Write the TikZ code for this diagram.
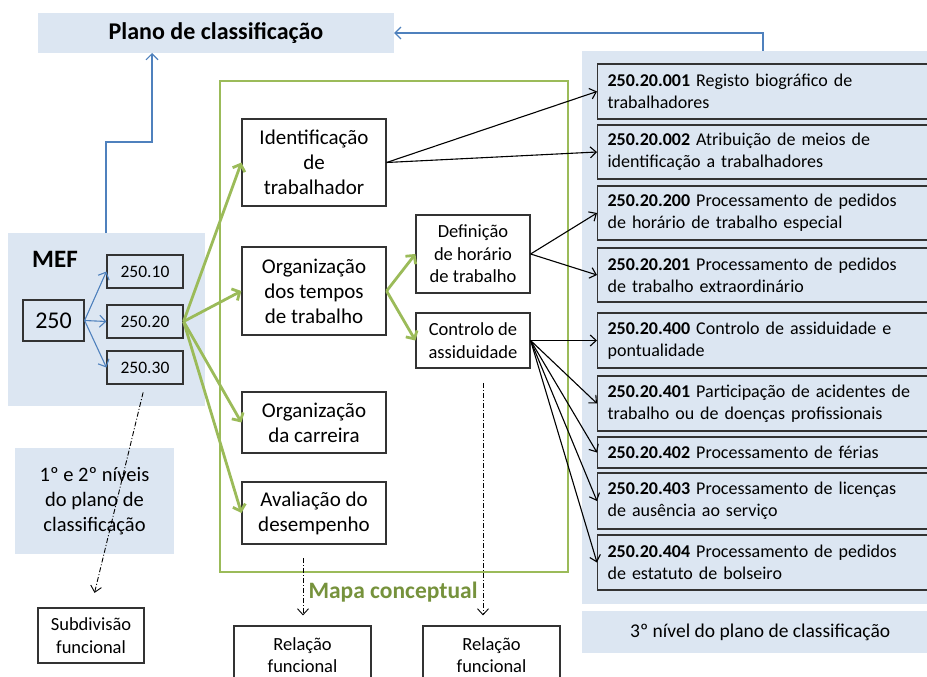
\documentclass[tikz,border=0pt]{standalone}
\usepackage{fontspec}
\setmainfont{Carlito}
\usetikzlibrary{arrows.meta}
\definecolor{lblue}{RGB}{220,230,242}
\definecolor{bline}{RGB}{79,129,189}
\definecolor{gline}{RGB}{155,187,89}
\definecolor{gtext}{RGB}{118,146,60}
\tikzset{
  panel/.style={fill=lblue, draw=none, inner sep=0pt},
  box/.style={draw=black!80, line width=1.2pt, inner sep=0pt, align=center, font=\fontsize{21}{25}\selectfont},
  sbox/.style={draw=black!80, line width=1.2pt, inner sep=0pt, align=center, font=\fontsize{18.5}{22.5}\selectfont},
  rbox/.style={draw=black!80, line width=1.2pt, fill=lblue, anchor=west, inner xsep=10pt, inner ysep=0pt, text width=320pt, align=left, font=\fontsize{18}{22}\selectfont},
  bluearrow/.style={draw=bline, line width=1.1pt, -{Straight Barb[length=6pt,width=12pt]}},
  greenarrow/.style={draw=gline, line width=2.8pt, -{Straight Barb[length=6pt,width=13pt,line width=2.8pt]}},
  blackarrow/.style={draw=black, line width=1.1pt, -{Straight Barb[length=6pt,width=11pt]}},
  dasharrow/.style={draw=black, line width=0.9pt, dash pattern=on 5pt off 2pt on 1pt off 2pt, -{Straight Barb[length=6pt,width=11pt]}},
}
\begin{document}
\begin{tikzpicture}[x=1pt,y=-1pt]
\useasboundingbox (0,0) rectangle (927,677);
% title
\node[panel, minimum width=356pt, minimum height=40pt, font=\fontsize{24}{28}\selectfont\bfseries] (title) at (216,33) {Plano de classificação};
% right panel
\node[panel, minimum width=356pt, minimum height=553pt, anchor=north west] (rpanel) at (582,51) {};
\node[panel, minimum width=356pt, minimum height=42pt, anchor=north west, font=\fontsize{19.5}{23}\selectfont] (third) at (582,611) {3º nível do plano de classificação};
% MEF panel
\node[panel, minimum width=197pt, minimum height=173pt] (mef) at (106.5,319.5) {};
\node[font=\fontsize{25}{28}\selectfont\bfseries, inner sep=0pt] (meflabel) at (55,259) {MEF};
\node[box, minimum width=61pt, minimum height=41pt, font=\fontsize{24}{28}\selectfont] (b250) at (53.5,320.5) {250};
\node[sbox, minimum width=76pt, minimum height=33pt, font=\fontsize{17.5}{21}\selectfont] (b10) at (145,271.5) {250.10};
\node[sbox, minimum width=76pt, minimum height=33pt, font=\fontsize{17.5}{21}\selectfont] (b20) at (145,321.5) {250.20};
\node[sbox, minimum width=76pt, minimum height=33pt, font=\fontsize{17.5}{21}\selectfont] (b30) at (145,367.5) {250.30};
% levels panel
\node[panel, minimum width=159pt, minimum height=106pt, align=center, font=\fontsize{20.5}{25}\selectfont] (levels) at (94.5,501) {1º e 2º níveis\\do plano de\\classificação};
% green frame
\node[draw=gline, line width=2.8pt, minimum width=348pt, minimum height=491pt, inner sep=0pt] (frame) at (394,326.5) {};
\node[font=\fontsize{23.5}{27}\selectfont\bfseries, text=gtext, inner sep=0pt] (mapa) at (393,592) {Mapa conceptual};
% middle boxes
\node[box, minimum width=144pt, minimum height=87pt] (ident) at (314,162.5) {Identificação\\de\\trabalhador};
\node[box, minimum width=144pt, minimum height=88pt] (tempos) at (314,291) {Organização\\dos tempos\\de trabalho};
\node[box, minimum width=144pt, minimum height=61pt] (carreira) at (314,422.5) {Organização\\da carreira};
\node[box, minimum width=144pt, minimum height=62pt] (aval) at (314,513) {Avaliação do\\desempenho};
\node[sbox, minimum width=114pt, minimum height=78pt] (defin) at (473,254) {Definição\\de horário\\de trabalho};
\node[sbox, minimum width=114pt, minimum height=55pt] (contr) at (473,340.5) {Controlo de\\assiduidade};
% right list
\node[rbox, minimum height=55pt] (r001) at (597,91.5) {\textbf{250.20.001} Registo biográfico de\\trabalhadores};
\node[rbox, minimum height=54pt] (r002) at (597,152) {\textbf{250.20.002} Atribuição de meios de\\identificação a trabalhadores};
\node[rbox, minimum height=54pt] (r200) at (597,213) {\textbf{250.20.200} Processamento de pedidos\\de horário de trabalho especial};
\node[rbox, minimum height=54pt] (r201) at (597,275) {\textbf{250.20.201} Processamento de pedidos\\de trabalho extraordinário};
\node[rbox, minimum height=55pt] (r400) at (597,340.5) {\textbf{250.20.400} Controlo de assiduidade e\\pontualidade};
\node[rbox, minimum height=55pt] (r401) at (597,403.5) {\textbf{250.20.401} Participação de acidentes de\\trabalho ou de doenças profissionais};
\node[rbox, minimum height=31pt] (r402) at (597,452.5) {\textbf{250.20.402} Processamento de férias};
\node[rbox, minimum height=56pt] (r403) at (597,501) {\textbf{250.20.403} Processamento de licenças\\de ausência ao serviço};
\node[rbox, minimum height=55pt] (r404) at (597,562.5) {\textbf{250.20.404} Processamento de pedidos\\de estatuto de bolseiro};
% bottom boxes
\node[sbox, minimum width=106pt, minimum height=55pt] (subdiv) at (91,635.5) {Subdivisão\\funcional};
\node[sbox, minimum width=137pt, minimum height=58pt] (rel1) at (302.5,655) {Relação\\funcional};
\node[sbox, minimum width=137pt, minimum height=58pt] (rel2) at (491.5,655) {Relação\\funcional};
% blue connectors
\coordinate (rt) at (763,51);
\coordinate (mefup) at (106,233);
\coordinate (ttarget) at (152,53);
\draw[bluearrow] (rt) |- (title.east);
\draw[bluearrow] (mefup) -- (106,142) -| (ttarget);
\draw[bluearrow] (b250.east) -- (b10.west);
\draw[bluearrow] (b250.east) -- (b20.west);
\draw[bluearrow] (b250.east) -- (b30.west);
% green connectors
\foreach \t in {ident,tempos,carreira,aval} \draw[greenarrow] (b20.east) -- (\t.west);
\draw[greenarrow] (tempos.east) -- (defin.west);
\draw[greenarrow] (tempos.east) -- (contr.west);
% black connectors
\draw[blackarrow] (ident.east) -- (r001.west);
\draw[blackarrow] (ident.east) -- (r002.west);
\draw[blackarrow] (defin.east) -- (r200.west);
\draw[blackarrow] (defin.east) -- (r201.west);
\foreach \t in {r400,r401,r402,r403,r404} \draw[blackarrow] (contr.east) -- (\t.west);
% dash-dot connectors
\coordinate (d1) at (303,558);
\coordinate (d2) at (483,383);
\draw[dasharrow, shorten <=8pt, shorten >=15pt] (b30.south) -- (subdiv.north);
\draw[dasharrow, shorten >=10pt] (d1) -- (d1 |- rel1.north);
\draw[dasharrow, shorten >=10pt] (d2) -- (d2 |- rel2.north);
\end{tikzpicture}
\end{document}
